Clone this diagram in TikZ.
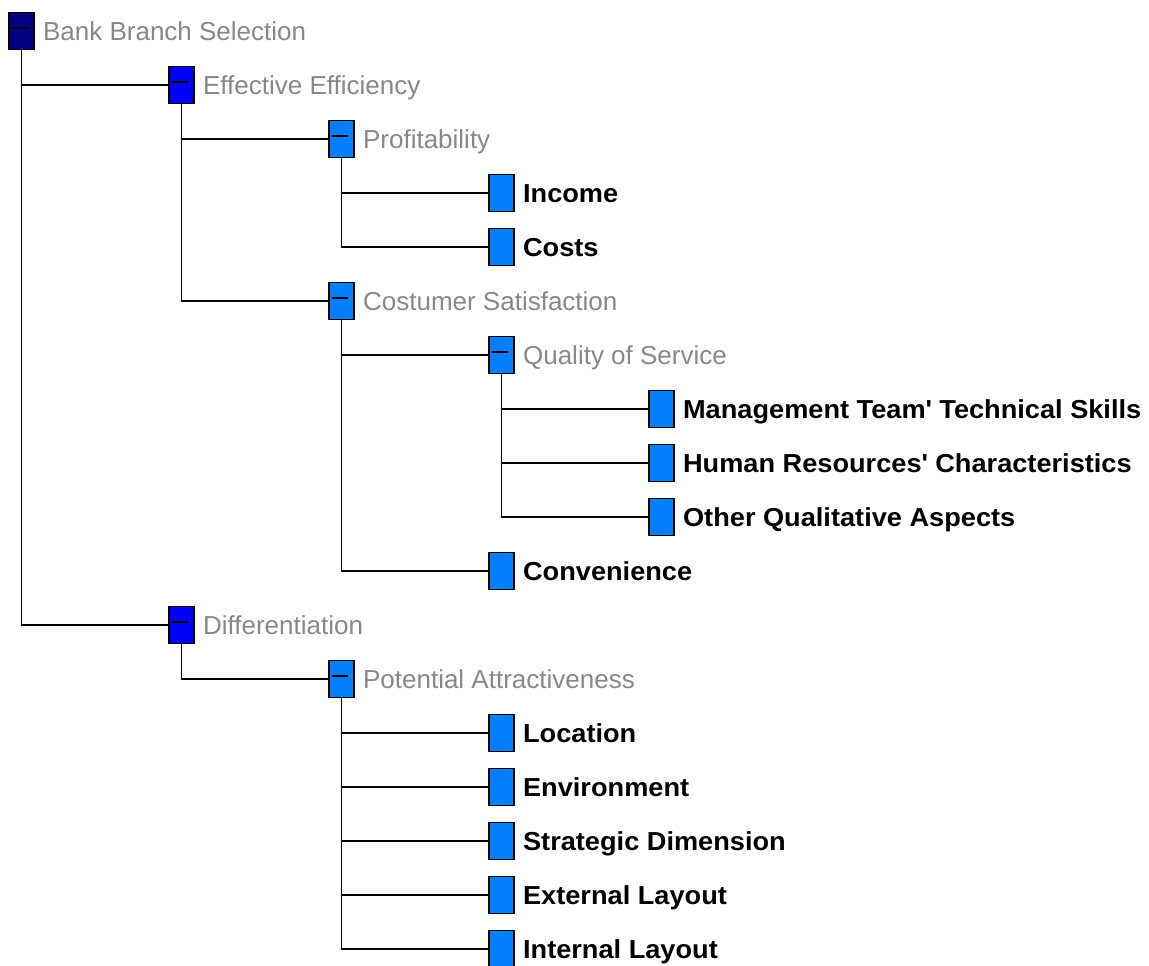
\documentclass[tikz,border=0pt]{standalone}
\usepackage{fontspec}
\setmainfont{Liberation Sans}[BoldFeatures={FakeStretch=1.045}]
\usetikzlibrary{positioning}

\definecolor{rootblue}{RGB}{0,0,128}
\definecolor{midblue}{RGB}{0,0,255}
\definecolor{leafblue}{RGB}{0,128,255}
\definecolor{labelgray}{RGB}{136,136,136}

\begin{document}
\begin{tikzpicture}[
      every node/.style={inner sep=0pt},
      box/.style={draw=black, line width=1.3pt, fill=leafblue, on grid,
         minimum width=18.75pt, minimum height=27.75pt},
      open/.style={box, path picture={\draw[line width=1.1pt]
         ([xshift=-7pt,yshift=2.25pt]path picture bounding box.center) -- ++(12pt,0);}},
      leaf/.style={box},
      ptext/.style={text=labelgray, font=\fontsize{19.5}{23}\selectfont,
         text height=14pt, text depth=0pt, anchor=west},
      ltext/.style={ptext, text=black, font=\fontsize{19.5}{23}\selectfont\bfseries},
      conn/.style={draw=black, line width=1.2pt},
      node distance=40.5pt and 120pt
   ]
   \useasboundingbox (0,0) rectangle (861.75pt,-723.75pt);

   % criteria boxes
   \node[open, fill=rootblue] (bbs) at (16.1pt,-23.25pt) {};
   \node[open, fill=midblue, below right=of bbs]  (eff)  {};
   \node[open, below right=of eff]                (prof) {};
   \node[leaf, below right=of prof]               (inc)  {};
   \node[leaf, below=of inc]                      (cost) {};
   \node[open, below=121.5pt of prof]             (cust) {};
   \node[open, below right=of cust]               (qos)  {};
   \node[leaf, below right=of qos]                (mts)  {};
   \node[leaf, below=of mts]                      (hrc)  {};
   \node[leaf, below=of hrc]                      (oqa)  {};
   \node[leaf, below right=202.5pt and 120pt of cust] (conv) {};
   \node[open, fill=midblue, below=405pt of eff]  (diff) {};
   \node[open, below right=of diff]               (pot)  {};
   \node[leaf, below right=of pot]                (loc)  {};
   \node[leaf, below=of loc]                      (env)  {};
   \node[leaf, below=of env]                      (strd) {};
   \node[leaf, below=of strd]                     (extl) {};
   \node[leaf, below=of extl]                     (intl) {};

   % labels
   \node[ptext, right=6pt of bbs]  (bbs-t)  {Bank Branch Selection};
   \node[ptext, right=6pt of eff]  (eff-t)  {Effective Efficiency};
   \node[ptext, right=6pt of prof] (prof-t) {Profitability};
   \node[ltext, right=6pt of inc]  (inc-t)  {Income};
   \node[ltext, right=6pt of cost] (cost-t) {Costs};
   \node[ptext, right=6pt of cust] (cust-t) {Costumer Satisfaction};
   \node[ptext, right=6pt of qos]  (qos-t)  {Quality of Service};
   \node[ltext, right=6pt of mts]  (mts-t)  {Management Team\textquotesingle{} Technical Skills};
   \node[ltext, right=6pt of hrc]  (hrc-t)  {Human Resources\textquotesingle{} Characteristics};
   \node[ltext, right=6pt of oqa]  (oqa-t)  {Other Qualitative Aspects};
   \node[ltext, right=6pt of conv] (conv-t) {Convenience};
   \node[ptext, right=6pt of diff] (diff-t) {Differentiation};
   \node[ptext, right=6pt of pot]  (pot-t)  {Potential Attractiveness};
   \node[ltext, right=6pt of loc]  (loc-t)  {Location};
   \node[ltext, right=6pt of env]  (env-t)  {Environment};
   \node[ltext, right=6pt of strd] (strd-t) {Strategic Dimension};
   \node[ltext, right=6pt of extl] (extl-t) {External Layout};
   \node[ltext, right=6pt of intl] (intl-t) {Internal Layout};

   % tree lines
   \draw[conn] (bbs.south)  |- (eff.west);
   \draw[conn] (bbs.south)  |- (diff.west);
   \draw[conn] (eff.south)  |- (prof.west);
   \draw[conn] (eff.south)  |- (cust.west);
   \draw[conn] (prof.south) |- (inc.west);
   \draw[conn] (prof.south) |- (cost.west);
   \draw[conn] (cust.south) |- (qos.west);
   \draw[conn] (cust.south) |- (conv.west);
   \draw[conn] (qos.south)  |- (mts.west);
   \draw[conn] (qos.south)  |- (hrc.west);
   \draw[conn] (qos.south)  |- (oqa.west);
   \draw[conn] (diff.south) |- (pot.west);
   \draw[conn] (pot.south)  |- (loc.west);
   \draw[conn] (pot.south)  |- (env.west);
   \draw[conn] (pot.south)  |- (strd.west);
   \draw[conn] (pot.south)  |- (extl.west);
   \draw[conn] (pot.south)  |- (intl.west);
\end{tikzpicture}
\end{document}
